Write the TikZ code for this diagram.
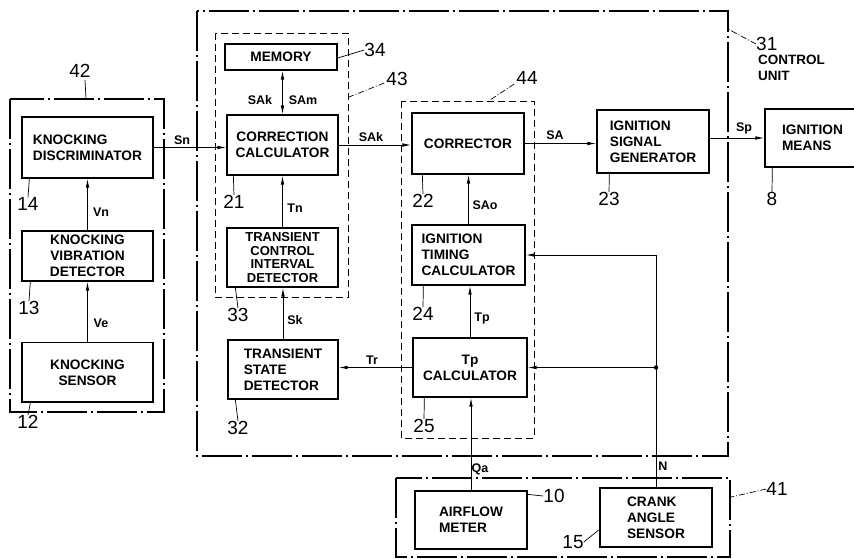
\documentclass[tikz,border=0pt]{standalone}
\usepackage{fontspec}
\setmainfont{Liberation Sans}
\usetikzlibrary{arrows.meta}

\tikzset{
  blk/.style={draw, line width=1.3pt, inner sep=1pt, align=center,
    font=\bfseries\fontsize{13.7}{16}\selectfont,
    path picture={\draw[line width=3pt] (path picture bounding box.south west)
      -- (path picture bounding box.south east) -- (path picture bounding box.north east);}},
  sig/.style={line width=0.9pt, -{Latex[length=9pt,width=3.6pt]}},
  lbl/.style={font=\bfseries\fontsize{12.5}{14}\selectfont, inner sep=0pt},
  num/.style={font=\fontsize{19}{21}\selectfont, inner sep=0pt},
  chain/.style={line width=1.1pt, dash pattern=on 40pt off 4pt on 2pt off 4pt},
  grpbox/.style={line width=1pt, dash pattern=on 7pt off 4pt},
  lead/.style={line width=0.7pt},
  dotlead/.style={line width=0.7pt, dash pattern=on 6pt off 2pt on 1pt off 2pt}
}

\begin{document}
\begin{tikzpicture}[x=1pt, y=-1pt]
\useasboundingbox (0,0) rectangle (854,558);

% frames
\draw [chain] (197,11) rectangle (728,456);
\draw [chain] (10,99) rectangle (164,412);
\draw [chain] (396,478) rectangle (730,557);
\draw [grpbox] (215,33) rectangle (348,297);
\draw [grpbox] (401,101) rectangle (534,438);

% knocking part
\node [blk, align=left, minimum width=131pt, minimum height=61pt] (kd) at (87.5,147.5) {KNOCKING\\DISCRIMINATOR};
\node [blk, minimum width=131pt, minimum height=50pt] (kvd) at (87.5,256) {KNOCKING\\VIBRATION\\DETECTOR};
\node [blk, minimum width=131pt, minimum height=60pt] (ks) at (87.5,372.5) {KNOCKING\\SENSOR};

% correction part
\node [blk, minimum width=112pt, minimum height=26pt] (mem) at (281,57) {MEMORY};
\node [blk, minimum width=111pt, minimum height=60pt] (cc) at (282.5,145) {CORRECTION\\CALCULATOR};
\node [blk, minimum width=111pt, minimum height=59pt, font=\bfseries\fontsize{13}{13.5}\selectfont] (tcid) at (282.5,257.5) {TRANSIENT\\CONTROL\\INTERVAL\\DETECTOR};
\node [blk, align=left, minimum width=110pt, minimum height=59pt] (tsd) at (283,369.5) {TRANSIENT\\STATE\\DETECTOR};

% timing part
\node [blk, minimum width=112pt, minimum height=61pt] (cor) at (468,143.5) {CORRECTOR};
\node [blk, align=left, minimum width=113pt, minimum height=60pt] (itc) at (468.5,255) {IGNITION\\TIMING\\CALCULATOR};
\node [blk, minimum width=114pt, minimum height=59pt] (tpc) at (470,367.5) {Tp\\CALCULATOR};
\node [blk, align=left, minimum width=112pt, minimum height=63pt] (isg) at (653,141.5) {IGNITION\\SIGNAL\\GENERATOR};
\node [blk, align=left, minimum width=95pt, minimum height=58pt] (im) at (812.5,138) {IGNITION\\MEANS};

% sensors
\node [blk, align=left, minimum width=112pt, minimum height=58pt] (afm) at (471,520) {AIRFLOW\\METER};
\node [blk, align=left, minimum width=112pt, minimum height=59pt] (cas) at (656,517.5) {CRANK\\ANGLE\\SENSOR};

% signals
\draw [sig] (ks) -- (kvd);
\draw [sig] (kvd) -- (kd);
\draw [sig] (kd.east) -- (kd.east -| cc.west);
\draw [line width=0.9pt, {Latex[length=9pt,width=3.6pt]}-{Latex[length=9pt,width=3.6pt]}] (cc.north) -- (cc.north |- mem.south);
\draw [sig] (tcid) -- (cc);
\draw [sig] (tsd.north) -- (tsd.north |- tcid.south);
\draw [sig] (cc.east) -- (cc.east -| cor.west);
\draw [sig] (itc.north) -- (itc.north |- cor.south);
\draw [sig] (tpc.north) -- (tpc.north |- itc.south);
\draw [sig] (tpc.west) -- (tpc.west -| tsd.east);
\draw [sig] (cor.east) -- (cor.east -| isg.west);
\draw [sig] (isg.east |- im.west) -- (im.west);
\draw [sig] (afm.north) -- (afm.north |- tpc.south);
\coordinate (jn) at (cas.north |- tpc.east);
\draw [sig] (cas.north) -- (cas.north |- itc.east) -- (itc.east);
\draw [sig] (jn) -- (tpc.east);
\fill (jn) circle (2.2pt);

% signal names
\node [lbl] (lsn) at (182,140) {Sn};
\node [lbl] (lvn) at (101,212) {Vn};
\node [lbl] (lve) at (101,323) {Ve};
\node [lbl] (lsak) at (260,100) {SAk};
\node [lbl] (lsam) at (303,100) {SAm};
\node [lbl] (lsak2) at (371,137) {SAk};
\node [lbl] (ltn) at (295,208) {Tn};
\node [lbl] (lsk) at (295,320) {Sk};
\node [lbl] (ltr) at (372,360) {Tr};
\node [lbl] (lsa) at (555,135) {SA};
\node [lbl] (lsao) at (485,205) {SAo};
\node [lbl] (ltp) at (482,318) {Tp};
\node [lbl] (lsp) at (744,128) {Sp};
\node [lbl] (lqa) at (480,469) {Qa};
\node [lbl] (ln) at (663,466) {N};

% reference numbers
\node [num] (n42) at (80,71) {42};
\node [num] (n14) at (28,204) {14};
\node [num] (n13) at (29,308) {13};
\node [num] (n12) at (28,422) {12};
\node [num] (n34) at (375,50) {34};
\node [num] (n43) at (397,79) {43};
\node [num] (n21) at (234,202) {21};
\node [num] (n33) at (238,315) {33};
\node [num] (n32) at (238,428) {32};
\node [num] (n44) at (527,78) {44};
\node [num] (n22) at (423,201) {22};
\node [num] (n24) at (423,314) {24};
\node [num] (n25) at (424,426) {25};
\node [num] (n23) at (609,199) {23};
\node [num] (n8) at (772,199) {8};
\node [num, anchor=west] (n31) at (756,44) {31};
\node [anchor=north west, inner sep=0pt, align=left, font=\bfseries\fontsize{13.5}{15.5}\selectfont] (cu) at (758,55) {CONTROL\\UNIT};
\node [num] (n10) at (554,496) {10};
\node [num] (n15) at (573,542) {15};
\node [num] (n41) at (777,489) {41};

% leaders
\draw [lead] (n42.south) ++(5,2) -- (86,99);
\draw [lead] (n14.north) -- ([xshift=8pt]kd.south west);
\draw [lead] (n13.north) -- ([xshift=9pt]kvd.south west);
\draw [lead] (n12.north) -- ([xshift=9pt]ks.south west);
\draw [lead] (n34.west) -- ([yshift=-1pt]mem.east);
\draw [dotlead] (n43.west) ++(-2,4) -- (349,97);
\draw [lead] (n21.north) -- ([xshift=7pt]cc.south west);
\draw [lead] (n33.north) -- ([xshift=9pt]tcid.south west);
\draw [lead] (n32.north) -- ([xshift=8pt]tsd.south west);
\draw [dotlead] (n44.west) ++(-2,6) -- (490,100);
\draw [lead] (n22.north) -- ([xshift=11pt]cor.south west);
\draw [lead] (n24.north) -- ([xshift=12pt]itc.south west);
\draw [lead] (n25.north) -- ([xshift=12pt]tpc.south west);
\draw [lead] (n23.north) -- ([xshift=13pt]isg.south west);
\draw [lead] (n8.north) -- ([xshift=8pt]im.south west);
\draw [dotlead] (n31.west) -- (728,29);
\draw [lead] (n10.west) -- ([yshift=-4pt]afm.north east);
\draw [lead] (n15.east) -- ([yshift=-12pt]cas.west);
\draw [dotlead] (n41.west) -- (731,497);
\end{tikzpicture}
\end{document}
